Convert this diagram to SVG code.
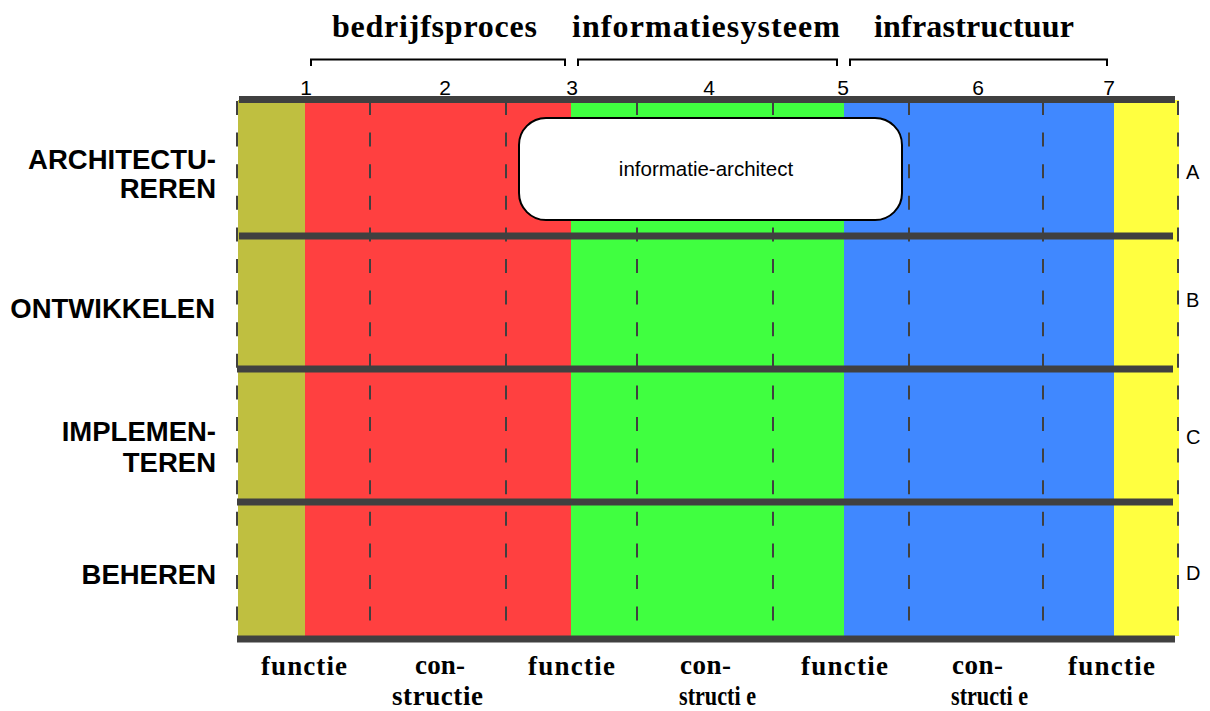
<svg xmlns="http://www.w3.org/2000/svg" width="1210" height="711" viewBox="0 0 1210 711">
<style>
.bar{stroke:#404040;stroke-width:7;fill:none}
.dash{stroke:#404040;stroke-width:2;stroke-dasharray:14 17.6;fill:none}
.brk{stroke:#000;stroke-width:2;fill:none}
.row{font-family:"Liberation Sans",Arial,sans-serif;font-weight:bold;font-size:27.5px;fill:#000;text-anchor:end}
.num{font-family:"Liberation Sans",Arial,sans-serif;font-size:21px;fill:#000;text-anchor:middle}
.let{font-family:"Liberation Sans",Arial,sans-serif;font-size:20px;fill:#000}
.head{font-family:"Liberation Serif","Times New Roman",serif;font-weight:bold;font-size:32px;fill:#000}
.foot{font-family:"Liberation Serif","Times New Roman",serif;font-weight:bold;font-size:27px;fill:#000}
</style>
<rect width="1210" height="711" fill="#fff"/>
<g id="columns">
<rect x="238" y="100" width="67" height="536" fill="#BFBF40"/>
<rect x="305" y="100" width="266" height="536" fill="#FF4040"/>
<rect x="571" y="100" width="273" height="536" fill="#40FF40"/>
<rect x="844" y="100" width="270" height="536" fill="#4088FF"/>
<rect x="1114" y="100" width="65" height="536" fill="#FFFF40"/>
</g>
<g id="connectors">
<line class="dash" x1="237" y1="101" x2="237" y2="638"/>
<line class="dash" x1="370" y1="101" x2="370" y2="638"/>
<line class="dash" x1="506" y1="101" x2="506" y2="638"/>
<line class="dash" x1="637" y1="101" x2="637" y2="638"/>
<line class="dash" x1="773" y1="101" x2="773" y2="638"/>
<line class="dash" x1="909" y1="101" x2="909" y2="638"/>
<line class="dash" x1="1043" y1="101" x2="1043" y2="638"/>
<line class="dash" x1="1178" y1="101" x2="1178" y2="638"/>
<line class="bar" x1="239" y1="99.5" x2="1175" y2="99.5"/>
<line class="bar" x1="239" y1="236" x2="1173" y2="236"/>
<line class="bar" x1="237" y1="369" x2="1173" y2="369"/>
<line class="bar" x1="237" y1="502" x2="1173" y2="502"/>
<line class="bar" x1="237" y1="639" x2="1175" y2="639"/>
<path class="brk" d="M311,66 V59.5 H565 V66"/>
<path class="brk" d="M578,66 V59.5 H837 V66"/>
<path class="brk" d="M850,66 V59.5 H1107 V66"/>
</g>
<g id="headings">
<text class="head" x="332" y="37" textLength="205" lengthAdjust="spacing">bedrijfsproces</text>
<text class="head" x="572" y="37" textLength="268" lengthAdjust="spacing">informatiesysteem</text>
<text class="head" x="874" y="37" textLength="200" lengthAdjust="spacing">infrastructuur</text>
</g>
<g id="numbers">
<text class="num" x="306" y="95">1</text>
<text class="num" x="445" y="95">2</text>
<text class="num" x="572" y="95">3</text>
<text class="num" x="709" y="95">4</text>
<text class="num" x="843" y="95">5</text>
<text class="num" x="978" y="95">6</text>
<text class="num" x="1109" y="95">7</text>
</g>
<g id="rows">
<text class="row" x="216" y="169">ARCHITECTU-</text>
<text class="row" x="216" y="198">REREN</text>
<text class="row" x="215" y="318">ONTWIKKELEN</text>
<text class="row" x="216" y="441">IMPLEMEN-</text>
<text class="row" x="216" y="472">TEREN</text>
<text class="row" x="216" y="584">BEHEREN</text>
</g>
<g id="letters">
<text class="let" x="1186" y="179">A</text>
<text class="let" x="1186" y="307">B</text>
<text class="let" x="1186" y="444">C</text>
<text class="let" x="1186" y="580">D</text>
</g>
<g id="informatie-architect">
<rect x="519" y="118" width="383" height="102" rx="27" ry="27" fill="#fff" stroke="#000" stroke-width="2"/>
<text x="706" y="176" font-family="Liberation Sans, Arial, sans-serif" font-size="20.5" text-anchor="middle">informatie-architect</text>
</g>
<g id="footer">
<text class="foot" x="261" y="675" textLength="86" lengthAdjust="spacing">functie</text>
<text class="foot" x="415" y="674" textLength="50" lengthAdjust="spacing">con-</text>
<text class="foot" x="392" y="705" textLength="91" lengthAdjust="spacing">structie</text>
<text class="foot" x="528" y="675" textLength="87" lengthAdjust="spacing">functie</text>
<text class="foot" x="680" y="674" textLength="51" lengthAdjust="spacing">con-</text>
<text class="foot" x="679" y="705" textLength="77" lengthAdjust="spacingAndGlyphs">structi e</text>
<text class="foot" x="801" y="675" textLength="87" lengthAdjust="spacing">functie</text>
<text class="foot" x="952" y="674" textLength="51" lengthAdjust="spacing">con-</text>
<text class="foot" x="951" y="705" textLength="77" lengthAdjust="spacingAndGlyphs">structi e</text>
<text class="foot" x="1068" y="675" textLength="87" lengthAdjust="spacing">functie</text>
</g>
</svg>
